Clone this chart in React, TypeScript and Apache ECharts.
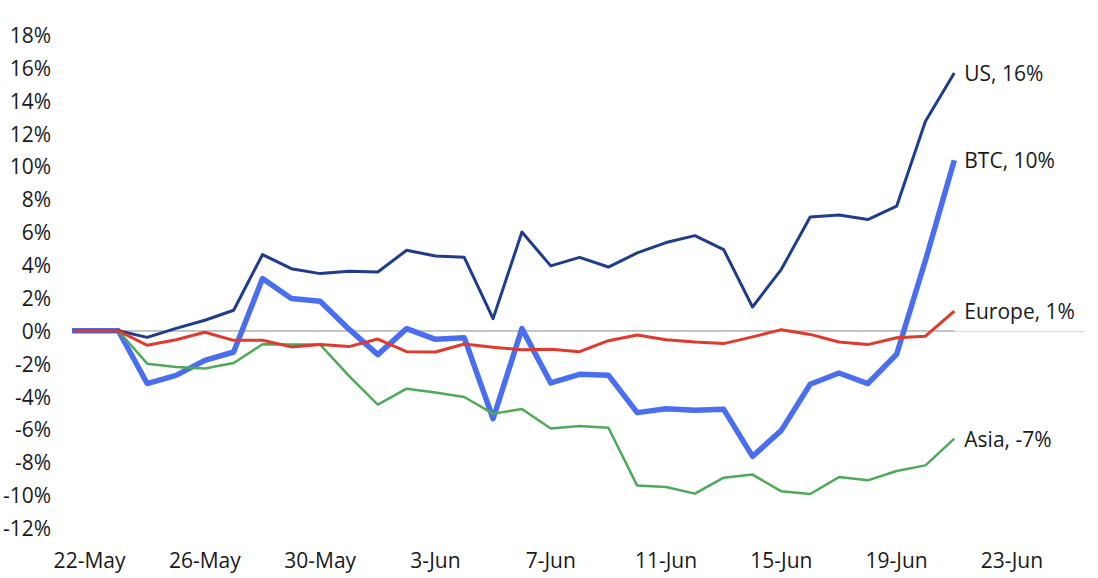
import React, { useEffect, useRef } from "react";
import * as echarts from "echarts";

// One entry per day, 21-May .. 21-Jun (21-May sits just left of the plot and is clipped)
const dates = [
  "21-May", "22-May", "23-May", "24-May", "25-May", "26-May", "27-May", "28-May",
  "29-May", "30-May", "31-May", "1-Jun", "2-Jun", "3-Jun", "4-Jun", "5-Jun",
  "6-Jun", "7-Jun", "8-Jun", "9-Jun", "10-Jun", "11-Jun", "12-Jun", "13-Jun",
  "14-Jun", "15-Jun", "16-Jun", "17-Jun", "18-Jun", "19-Jun", "20-Jun", "21-Jun",
];

const usValues = [
  0, 0, 0, -0.4, 0.15, 0.64, 1.25, 4.64, 3.78, 3.48, 3.62, 3.58, 4.9, 4.55, 4.47, 0.74,
  6.01, 3.95, 4.47, 3.88, 4.74, 5.37, 5.79, 4.94, 1.45, 3.74, 6.93, 7.05, 6.77, 7.58, 12.75, 15.69,
];
const btcValues = [
  0, 0, 0, -3.21, -2.71, -1.8, -1.29, 3.18, 1.96, 1.8, 0.1, -1.45, 0.13, -0.52, -0.42, -5.35,
  0.13, -3.17, -2.65, -2.7, -4.98, -4.74, -4.84, -4.78, -7.64, -6.06, -3.25, -2.57, -3.21, -1.43, 4.29, 10.38,
];
const europeValues = [
  0, 0, 0, -0.88, -0.54, -0.09, -0.58, -0.58, -0.98, -0.84, -0.96, -0.5, -1.27, -1.29, -0.8, -1.0,
  -1.15, -1.13, -1.27, -0.6, -0.25, -0.54, -0.68, -0.78, -0.37, 0.07, -0.22, -0.68, -0.84, -0.42, -0.33, 1.2,
];
const asiaValues = [
  0, 0, 0, -2.0, -2.2, -2.3, -1.96, -0.82, -0.84, -0.84, -2.74, -4.49, -3.52, -3.76, -4.03, -5.04,
  -4.76, -5.95, -5.79, -5.9, -9.42, -9.5, -9.91, -8.94, -8.75, -9.77, -9.93, -8.9, -9.1, -8.53, -8.19, -6.56,
];
const zeroValues = dates.map(() => 0);

const tickLabels = ["22-May", "26-May", "30-May", "3-Jun", "7-Jun", "11-Jun", "15-Jun", "19-Jun", "23-Jun"];
const tickPositions = [0, 4, 8, 12, 16, 20, 24, 28, 32]; // days after 22-May

const seriesNames = ["US", "BTC", "Europe", "Asia"];

const FONT = "'Open Sans', 'Liberation Sans', sans-serif";

export default function App() {
  const ref = useRef<HTMLDivElement>(null);

  useEffect(() => {
    if (!ref.current) return;
    const chart = echarts.init(ref.current, null, { renderer: "svg" });
    const toPoints = (vals: number[]) => vals.map((v, i) => [i - 1, v]);
    const endLabel = {
      show: true,
      formatter: (p: any) => `${p.seriesName}, ${Math.round(p.value[1])}%`,
      color: "#1a1a1a",
      fontSize: 21,
      fontFamily: FONT,
      distance: 10,
    };
    const mk = (name: string, vals: number[], color: string, width: number, z: number) => ({
      name,
      type: "line",
      data: toPoints(vals),
      showSymbol: false,
      symbol: "none",
      clip: true,
      z,
      lineStyle: { color, width, join: "round" },
      itemStyle: { color },
      endLabel,
    });

    chart.setOption({
      animation: false,
      backgroundColor: "#ffffff",
      grid: { left: 72, right: 14, top: 35, bottom: 50, containLabel: false },
      xAxis: {
        type: "value",
        min: -0.5,
        max: 34.5,
        axisLine: { show: true, lineStyle: { color: "#d9d9d9", width: 1 } },
        axisTick: { show: false },
        splitLine: { show: false },
        axisLabel: {
          customValues: tickPositions,
          formatter: (v: number) => tickLabels[tickPositions.indexOf(Math.round(v))] ?? "",
          fontSize: 21,
          fontFamily: FONT,
          color: "#1a1a1a",
          margin: 21,
        },
      },
      yAxis: {
        type: "value",
        min: -12,
        max: 18,
        interval: 2,
        axisLine: { show: false },
        axisTick: { show: false },
        splitLine: { show: false },
        axisLabel: {
          formatter: (v: number) => `${v}%`,
          fontSize: 21,
          fontFamily: FONT,
          color: "#1a1a1a",
          margin: 24,
        },
      },
      series: [
        {
          name: "zero",
          type: "line",
          data: toPoints(zeroValues),
          showSymbol: false,
          symbol: "none",
          silent: true,
          z: 1,
          lineStyle: { color: "#a6a6a6", width: 1 },
        },
        mk(seriesNames[1], btcValues, "#4a6ef0", 5.5, 2),
        mk(seriesNames[3], asiaValues, "#4fa95a", 2.5, 3),
        mk(seriesNames[0], usValues, "#1f3d8c", 3, 4),
        mk(seriesNames[2], europeValues, "#e0392d", 3, 5),
      ],
    });
    return () => chart.dispose();
  }, []);

  return (
    <div
      ref={ref}
      style={{ position: "fixed", left: 0, top: 0, width: 1098, height: 578, background: "#fff" }}
    />
  );
}
